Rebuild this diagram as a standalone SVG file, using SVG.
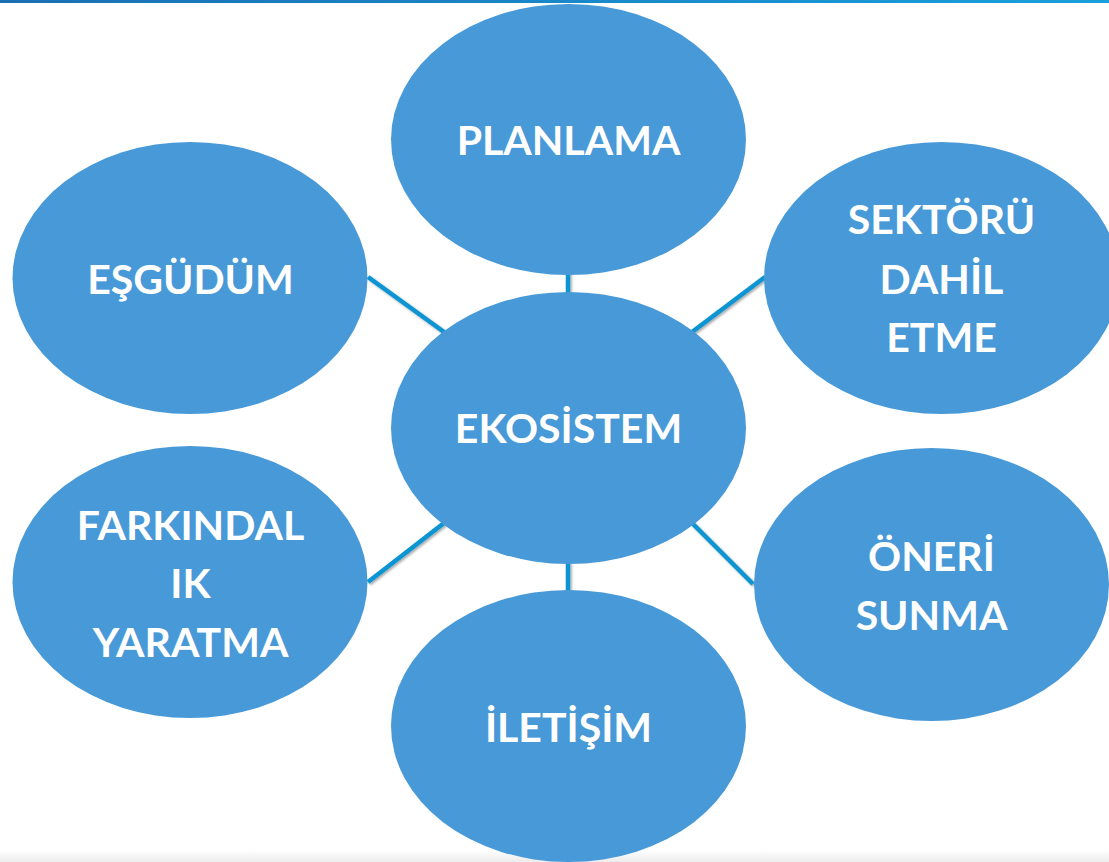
<svg xmlns="http://www.w3.org/2000/svg" width="1109" height="862" viewBox="0 0 1109 862">
  <defs>
    <linearGradient id="topbar" x1="0" y1="0" x2="1" y2="0">
      <stop offset="0" stop-color="#1a6fb4"/>
      <stop offset="1" stop-color="#1aa0dc"/>
    </linearGradient>
    <linearGradient id="botbar" x1="0" y1="0" x2="0" y2="1">
      <stop offset="0" stop-color="#ffffff"/>
      <stop offset="1" stop-color="#ececec"/>
    </linearGradient>
    <filter id="sh" x="-20%" y="-20%" width="140%" height="140%">
      <feDropShadow dx="1.5" dy="1.5" stdDeviation="1.2" flood-color="#000" flood-opacity="0.35"/>
    </filter>
  </defs>
  <style>
    .node { fill: #4899d8; }
    .conn { stroke: #0a94d2; stroke-width: 4.5; fill: none; }
    .lbl { fill: #ffffff; font-family: Lato, "Open Sans", "Liberation Sans", sans-serif; font-weight: bold; font-size: 41px; text-anchor: middle; }
  </style>
  <rect x="0" y="0" width="1109" height="862" fill="#ffffff"/>
  <rect x="0" y="0" width="1109" height="3" fill="url(#topbar)"/>
  <rect x="0" y="850" width="1109" height="12" fill="url(#botbar)"/>

  <g id="connectors" filter="url(#sh)">
    <line class="conn" x1="568" y1="272" x2="568" y2="295"/>
    <line class="conn" x1="368" y1="277" x2="444" y2="332"/>
    <line class="conn" x1="692" y1="332" x2="765" y2="277"/>
    <line class="conn" x1="444" y1="523" x2="368" y2="582"/>
    <line class="conn" x1="692" y1="523" x2="753" y2="584"/>
    <line class="conn" x1="568" y1="562" x2="568" y2="592"/>
  </g>

  <g id="node-planlama">
    <ellipse class="node" cx="568.5" cy="139.5" rx="177.5" ry="135.5"/>
    <text class="lbl" x="568.5" y="155">PLANLAMA</text>
  </g>
  <g id="node-esgudum">
    <ellipse class="node" cx="190" cy="278" rx="177.5" ry="136"/>
    <text class="lbl" x="190.5" y="294">EŞGÜDÜM</text>
  </g>
  <g id="node-sektoru">
    <ellipse class="node" cx="941.5" cy="278" rx="177.5" ry="136"/>
    <text class="lbl" x="941.5" y="234">SEKTÖRÜ</text>
    <text class="lbl" x="941.5" y="294">DAHİL</text>
    <text class="lbl" x="941.5" y="352">ETME</text>
  </g>
  <g id="node-ekosistem">
    <ellipse class="node" cx="568.5" cy="428" rx="177.5" ry="136"/>
    <text class="lbl" x="568.5" y="443">EKOSİSTEM</text>
  </g>
  <g id="node-farkindalik">
    <ellipse class="node" cx="190" cy="582" rx="177.5" ry="136"/>
    <text class="lbl" x="190.5" y="540">FARKINDAL</text>
    <text class="lbl" x="190.5" y="598">IK</text>
    <text class="lbl" x="190.5" y="657">YARATMA</text>
  </g>
  <g id="node-oneri">
    <ellipse class="node" cx="931.5" cy="584.5" rx="177.5" ry="136.5"/>
    <text class="lbl" x="931.5" y="571">ÖNERİ</text>
    <text class="lbl" x="931.5" y="630">SUNMA</text>
  </g>
  <g id="node-iletisim">
    <ellipse class="node" cx="568.5" cy="726" rx="177.5" ry="136"/>
    <text class="lbl" x="568.5" y="742">İLETİŞİM</text>
  </g>
</svg>
